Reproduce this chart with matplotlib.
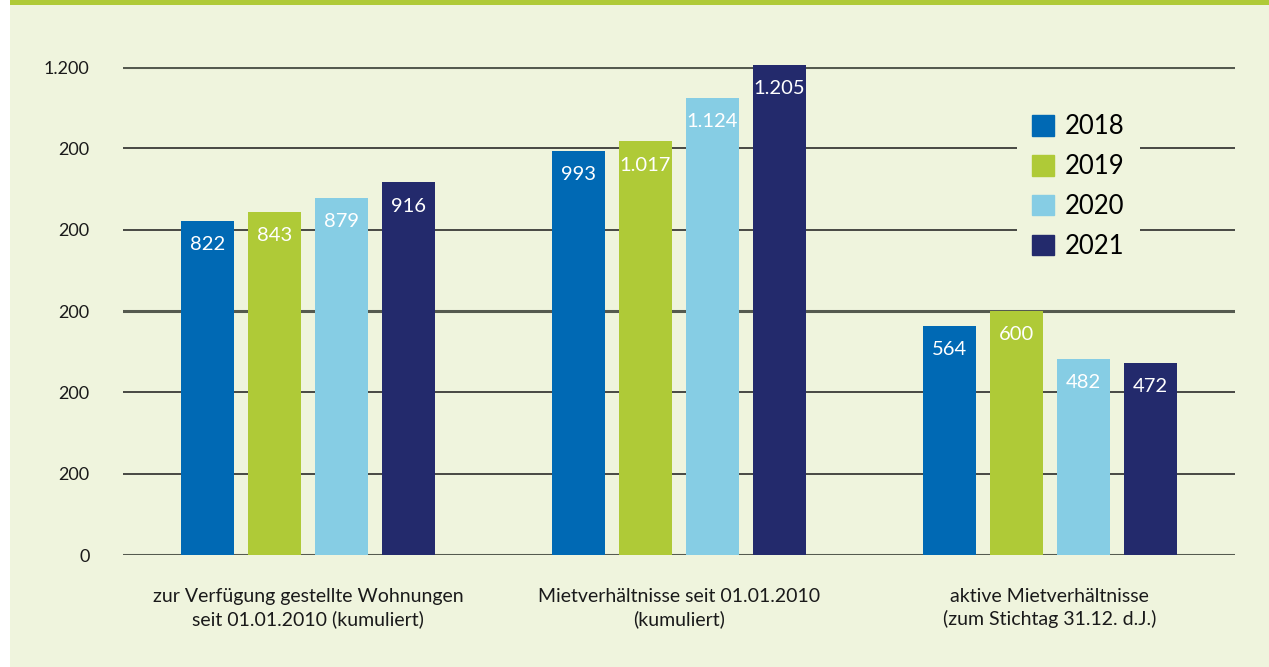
import matplotlib.pyplot as plt
import matplotlib.patches as mpatches
import numpy as np

plt.rcParams['font.family'] = ['Lato', 'DejaVu Sans']

# data
categories = ["zur Verfügung gestellte Wohnungen\nseit 01.01.2010 (kumuliert)",
              "Mietverhältnisse seit 01.01.2010\n(kumuliert)",
              "aktive Mietverhältnisse\n(zum Stichtag 31.12. d.J.)"]
years = ["2018", "2019", "2020", "2021"]
v2018 = [822, 993, 564]
v2019 = [843, 1017, 600]
v2020 = [879, 1124, 482]
v2021 = [916, 1205, 472]
ytick_vals = [0, 200, 400, 600, 800, 1000, 1200]
ytick_labels = ["0", "200", "200", "200", "200", "200", "1.200"]

colors = ["#0069b4", "#afca37", "#86cde4", "#232a6c"]
bg = "#eff4dd"

W, H = 1269, 667
fig = plt.figure(figsize=(W / 100, H / 100), dpi=100)
fig.patch.set_facecolor("white")
# background panel and top band
fig.patches.append(mpatches.Rectangle((10 / W, 0), 1 - 10 / W, 1, transform=fig.transFigure,
                                      facecolor=bg, edgecolor="none", zorder=-10))
fig.patches.append(mpatches.Rectangle((10 / W, 1 - 5 / H), 1 - 10 / W, 5 / H, transform=fig.transFigure,
                                      facecolor="#afca37", edgecolor="none", zorder=-9))

ax = fig.add_axes([123 / W, (H - 555) / H, (1235 - 123) / W, (555 - 67) / H])
ax.set_facecolor("none")

x = np.arange(len(categories))
width = 0.143
step = 0.1806
series = [v2018, v2019, v2020, v2021]
for i, vals in enumerate(series):
    pos = x + (i - 1.5) * step
    bars = ax.bar(pos, vals, width, color=colors[i], zorder=3, clip_on=False, label=years[i])
    for b, v in zip(bars, vals):
        lbl = f"{v:,}".replace(",", ".")
        ax.annotate(lbl, (b.get_x() + b.get_width() / 2, v), xytext=(0, -17),
                    textcoords="offset points", ha="center", va="center",
                    color="white", fontsize=14.5, zorder=4, annotation_clip=False)

ax.set_xlim(-0.5, 2.5)
ax.set_ylim(0, 1200)
for yv in ytick_vals:
    if yv in (0, 600, 1200):
        ax.axhline(yv, color="#555a4f", lw=2.2, zorder=1)
    else:
        ax.axhline(yv, color="#1a1a1a", lw=1.1, zorder=1)

ax.set_yticks(ytick_vals)
ax.set_yticklabels(ytick_labels, fontsize=13, color="#1a1a1a")
ax.tick_params(axis="y", length=0, pad=24)
ax.set_xticks(x)
ax.set_xticklabels(categories, fontsize=14, color="#1a1a1a", linespacing=1.3)
ax.tick_params(axis="x", length=0, pad=24)
for s in ax.spines.values():
    s.set_visible(False)

handles = [mpatches.Patch(color=c, label=y) for c, y in zip(colors, years)]
leg = ax.legend(handles=handles, loc="upper left", bbox_to_anchor=(1004 / W, (H - 86) / H),
                bbox_transform=fig.transFigure, frameon=True, facecolor=bg, edgecolor="none",
                framealpha=1, fontsize=18.5, handlelength=0.85, handleheight=0.85,
                handletextpad=0.4, labelspacing=0.58, borderpad=0.6, fancybox=False)
leg.set_zorder(5)

fig.savefig("out.png", dpi=100, facecolor=fig.get_facecolor())
